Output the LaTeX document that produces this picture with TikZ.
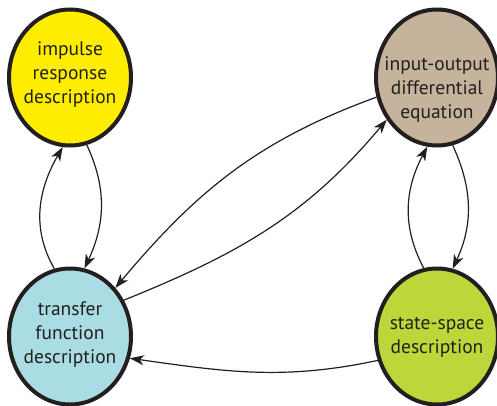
\documentclass[tikz,border=0pt]{standalone}
\usepackage{fontspec}
\setmainfont{PT Sans}
\usetikzlibrary{matrix,arrows.meta,shapes.geometric}
\definecolor{ink}{RGB}{35,31,32}
\definecolor{impyel}{RGB}{255,237,0}
\definecolor{iotan}{RGB}{197,180,155}
\definecolor{tfblue}{RGB}{170,220,227}
\definecolor{ssgreen}{RGB}{190,214,58}
\tikzset{
  desc/.style={ellipse, draw=ink, line width=4pt, minimum width=122pt, minimum height=136pt,
    inner xsep=-14pt, inner ysep=0pt, align=center, text=ink,
    font=\fontsize{19.5}{24}\selectfont, text depth=0pt}
}

\begin{document}
\begin{tikzpicture}[>={Stealth[length=14pt,width=10pt,inset=4pt]}]
  \useasboundingbox (0,0) rectangle (497pt,-406pt);
  \matrix (m) at (253.5pt,-207pt) [row sep=119pt, column sep=241pt]
  {
\node[desc, fill=impyel, text height=52pt] (imp) {impulse\\response\\description}; &
\node[desc, fill=iotan, text height=82pt] (io) {input-output\\differential\\equation}; \\
\node[desc, fill=tfblue, text height=54pt] (tf) {transfer\\function\\description}; &
\node[desc, fill=ssgreen, text height=34pt] (ss) {state-space\\description}; \\
};
  \path[->, ink, line width=1.2pt]
  (tf.103) edge [out=120, in=-120] (imp.-96)
  (imp.-76) edge [out=-65, in=65] (tf.78)
  (io.198) edge [out=200, in=50] (tf.47)
  (tf.34) edge [out=22, in=-130] (io.220)
  (ss.101) edge [out=118, in=-118] (io.-98)
  (io.-77) edge [out=-65, in=65] (ss.77)
  (ss.202) edge [out=192, in=-8] (tf.-20)
;
\end{tikzpicture}
\end{document}
